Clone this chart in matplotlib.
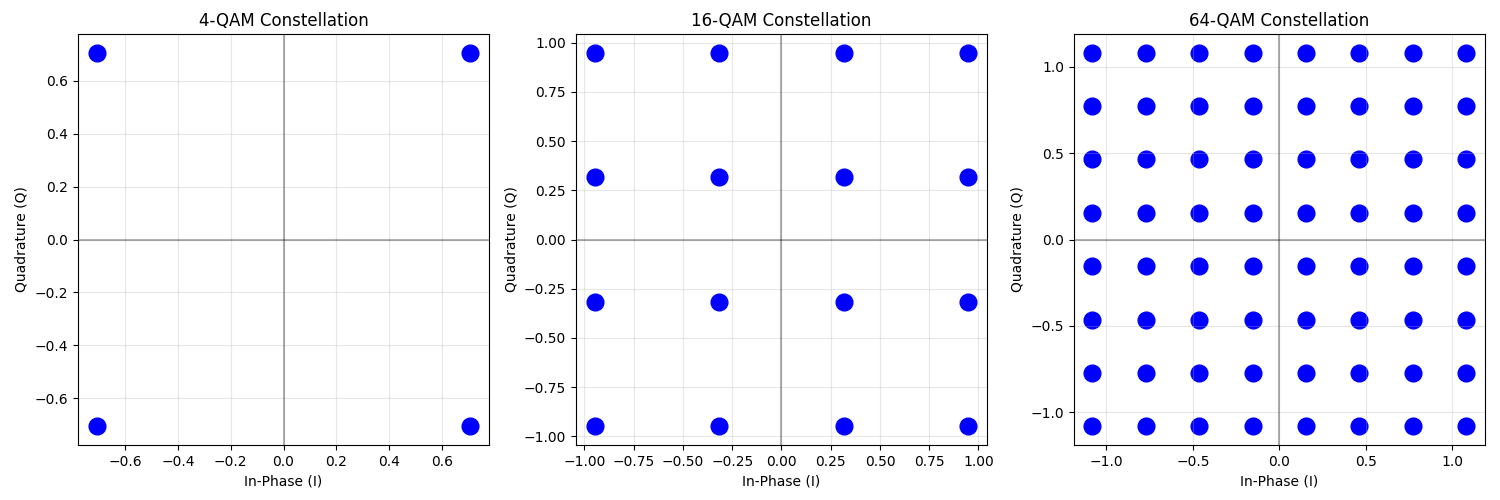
import matplotlib
matplotlib.use("Agg")
import matplotlib.pyplot as plt


# -------------------------------------------------
# CONSTELLATION LEVELS (normalized to unit average power)
# -------------------------------------------------
titles = ["4-QAM Constellation", "16-QAM Constellation", "64-QAM Constellation"]

levels_4 = [-0.7071, 0.7071]
levels_16 = [-0.9487, -0.3162, 0.3162, 0.9487]
levels_64 = [-1.0801, -0.7715, -0.4629, -0.1543, 0.1543, 0.4629, 0.7715, 1.0801]

all_levels = [levels_4, levels_16, levels_64]


def grid_points(levels):
    i_vals = []
    q_vals = []
    for q in levels:
        for i in levels:
            i_vals.append(i)
            q_vals.append(q)
    return i_vals, q_vals


fig, axes = plt.subplots(1, 3, figsize=(15, 5), dpi=100)

for ax, title, levels in zip(axes, titles, all_levels):
    i_vals, q_vals = grid_points(levels)
    ax.scatter(i_vals, q_vals, s=145, c="blue")
    ax.axhline(0, color="k", alpha=0.3)
    ax.axvline(0, color="k", alpha=0.3)
    ax.grid(True, alpha=0.3)
    ax.set_title(title)
    ax.set_xlabel("In-Phase (I)")
    ax.set_ylabel("Quadrature (Q)")

plt.tight_layout()
fig.subplots_adjust(top=0.932, bottom=0.11)
plt.savefig("out.png")
